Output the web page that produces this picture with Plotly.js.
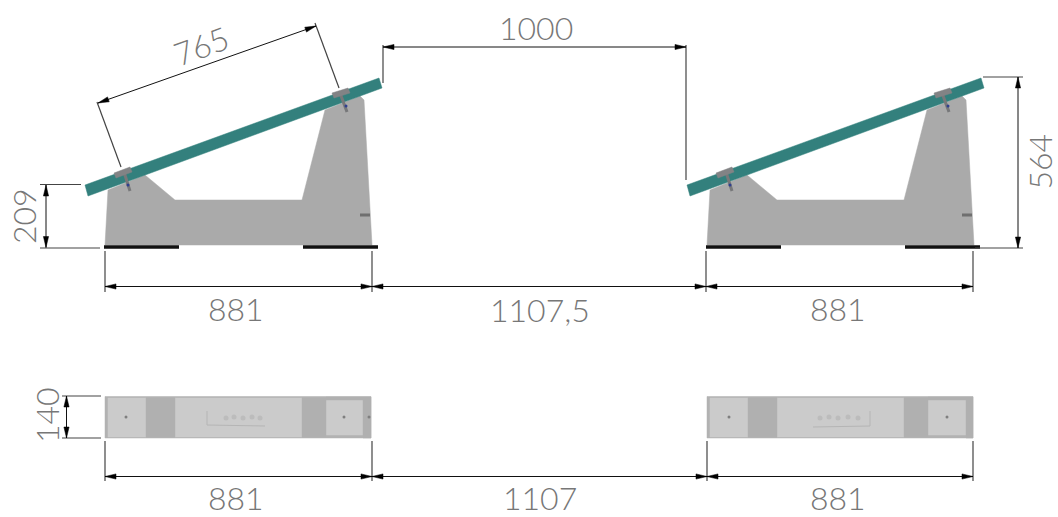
<!DOCTYPE html>
<html><head><meta charset="utf-8">
<script src="https://cdn.plot.ly/plotly-3.0.1.min.js"></script>
<style>html,body{margin:0;padding:0;background:#fff}#c{width:1058px;height:517px}</style></head>
<body><div id="c"></div>
<script>
// All positions are in drawing units on hidden x / y axes.
var secondUnitShift = 602;
var concreteX = [105,108,145,175,302,325,360,364,372,105];
var concreteY = [245,190,175,200,200,110,96,100,245,245];
var panelX = [85,88,382,379,85];
var panelY = [185,196,88,78,185];
var clampX = [114,130,132,116,114,null,332,348,350,334,332];
var clampY = [173,167,172,178,173,null,93,88,93,98,93];
var boltX = [124,130,null,340,347];
var boltY = [172,191,null,93,112];
var boltTipX = [128,346];
var boltTipY = [185,106];
var footX = [104,179,null,303,378];
var footY = [247,247,null,247,247];
var lugX = [360,370];
var lugY = [215,215];

var planBaseX = [105,371,371,105,105,null,707,973,973,707,707];
var planBaseY = [396.5,396.5,438,438,396.5,null,396.5,396.5,438,438,396.5];
var planLightX = [108,146,146,108,108,null,175,302,302,175,175,null,326,363,363,326,326,null,710,748,748,710,710,null,777,904,904,777,777,null,928,966,966,928,928];
var planLightY = [398,398,437,437,398,null,398,398,437,437,398,null,400,400,435,435,400,null,398,398,437,437,398,null,398,398,437,437,398,null,400,400,435,435,400];
var planDarkX = [146,175,175,146,146,null,302,326,326,302,302,null,326,371,371,363,363,326,326,null,748,777,777,748,748,null,904,928,928,904,904,null,928,973,973,966,966,928,928];
var planDarkY = [398,398,437,437,398,null,398,398,437,437,398,null,397,397,438,438,400,400,397,null,398,398,437,437,398,null,398,398,437,437,398,null,397,397,438,438,400,400,397];
var planDotX = [126,344,369,729,947];
var planDotY = [417,417,417,417,417];
var planMarkX = [207,207,265,null,813,870,870];
var planMarkY = [411,425,426,null,427,426,411];
var planEmbossX = [226,234,243,252,260,820,829,838,848,858];
var planEmbossY = [418,417,418,417,418,418,417,418,417,418];

// extension lines: x0,y0,x1,y1
var extLines = [
 [40,184.5,81,184.5],[40,248,100,248],[105,251,105,292],[372,251,372,292],
 [97,102,121,167],[315,23,339,88],[383,45,383,83],[686,45,686,180],
 [983,77,1023,77],[975,248,1023,248],[706,251,706,292],[973,251,973,292],
 [62,396,101,396],[62,438,101,438],[105,441,105,481],[372,441,372,481],
 [707,441,707,481],[973,441,973,481]];
// dimension lines with arrowheads: x0,y0,x1,y1
var dimLines = [
 [46,185,46,247.5],[105,286.5,372,286.5],[98,103,316,26],[383,47,686,47],
 [1018,77,1018,248],[372,286.5,706,286.5],[706,286.5,973,286.5],
 [66.5,396,66.5,438],[105,476.5,372,476.5],[372,476.5,707,476.5],[707,476.5,973,476.5]];
var labelTexts = ["209","881","765","1000","564","1107,5","881","140","881","1107","881"];
var labelX = [23,236,201,536,1038.5,540,838,46,236,540,838];
var labelY = [216,308,45,27,162,309,308,415,497,497,497];
var labelAngle = [-90,0,-20,0,-90,0,0,-90,0,0,0];

function shifted(a){return a.map(function(v){return v===null?null:v+secondUnitShift;});}
function twoUnitsX(a){return a.concat([null],shifted(a));}
function twoUnitsY(a){return a.concat([null],a);}
function fillTrace(x,y,c){return {x:x,y:y,mode:'lines',fill:'toself',fillcolor:c,line:{color:c,width:0.5},hoverinfo:'skip',type:'scatter'};}
function lineTrace(x,y,c,w){return {x:x,y:y,mode:'lines',line:{color:c,width:w},hoverinfo:'skip',type:'scatter',connectgaps:false};}
function markTrace(x,y,c,s){return {x:x,y:y,mode:'markers',marker:{color:c,size:s},hoverinfo:'skip',type:'scatter'};}

var extX=[],extY=[];
extLines.forEach(function(l){extX.push(l[0],l[2],null);extY.push(l[1],l[3],null);});
var dimX=[],dimY=[],headX=[],headY=[];
function head(px,py,dx,dy){
  var L=11,W=2.6;
  headX.push(px,px+dx*L-dy*W,px+dx*L+dy*W,px,null);
  headY.push(py,py+dy*L+dx*W,py+dy*L-dx*W,py,null);
}
dimLines.forEach(function(l){
  dimX.push(l[0],l[2],null);dimY.push(l[1],l[3],null);
  var dx=l[2]-l[0],dy=l[3]-l[1],n=Math.sqrt(dx*dx+dy*dy);dx/=n;dy/=n;
  head(l[0],l[1],dx,dy);head(l[2],l[3],-dx,-dy);
});

var traces=[
 fillTrace(twoUnitsX(concreteX),twoUnitsY(concreteY),'#aaaaaa'),
 fillTrace(twoUnitsX(panelX),twoUnitsY(panelY),'#33807d'),
 lineTrace(twoUnitsX(boltX),twoUnitsY(boltY),'#77787a',3),
 fillTrace(twoUnitsX(clampX),twoUnitsY(clampY),'#828385'),
 markTrace(twoUnitsX(boltTipX),twoUnitsY(boltTipY),'#2f3f8f',3),
 lineTrace(twoUnitsX(footX),twoUnitsY(footY),'#111111',3.5),
 lineTrace(twoUnitsX(lugX),twoUnitsY(lugY),'#6f6f6f',3),
 fillTrace(planBaseX,planBaseY,'#b2b2b2'),
 fillTrace(planLightX,planLightY,'#cbcbcb'),
 fillTrace(planDarkX,planDarkY,'#b0b0b0'),
 lineTrace(planMarkX,planMarkY,'#b5b5b5',1),
 markTrace(planEmbossX,planEmbossY,'#bcbcbc',5),
 markTrace(planDotX,planDotY,'#7f7f7f',3),
 lineTrace(extX,extY,'#444444',1.2),
 lineTrace(dimX,dimY,'#111111',1),
 fillTrace(headX,headY,'#000000')
];
var annotations=labelTexts.map(function(t,i){return {
  x:labelX[i],y:labelY[i],xref:'x',yref:'y',text:t,showarrow:false,textangle:labelAngle[i],
  xanchor:'center',yanchor:'middle',borderpad:0,font:{family:'Lato, sans-serif',size:32,color:'#777777',weight:300}};});
var layout={width:1058,height:517,margin:{l:0,r:0,t:0,b:0},paper_bgcolor:'#fff',plot_bgcolor:'#fff',showlegend:false,
 xaxis:{range:[0,1058],visible:false,fixedrange:true},
 yaxis:{range:[517,0],visible:false,fixedrange:true},annotations:annotations};
Plotly.newPlot('c',traces,layout,{displayModeBar:false,staticPlot:true});
</script></body></html>
